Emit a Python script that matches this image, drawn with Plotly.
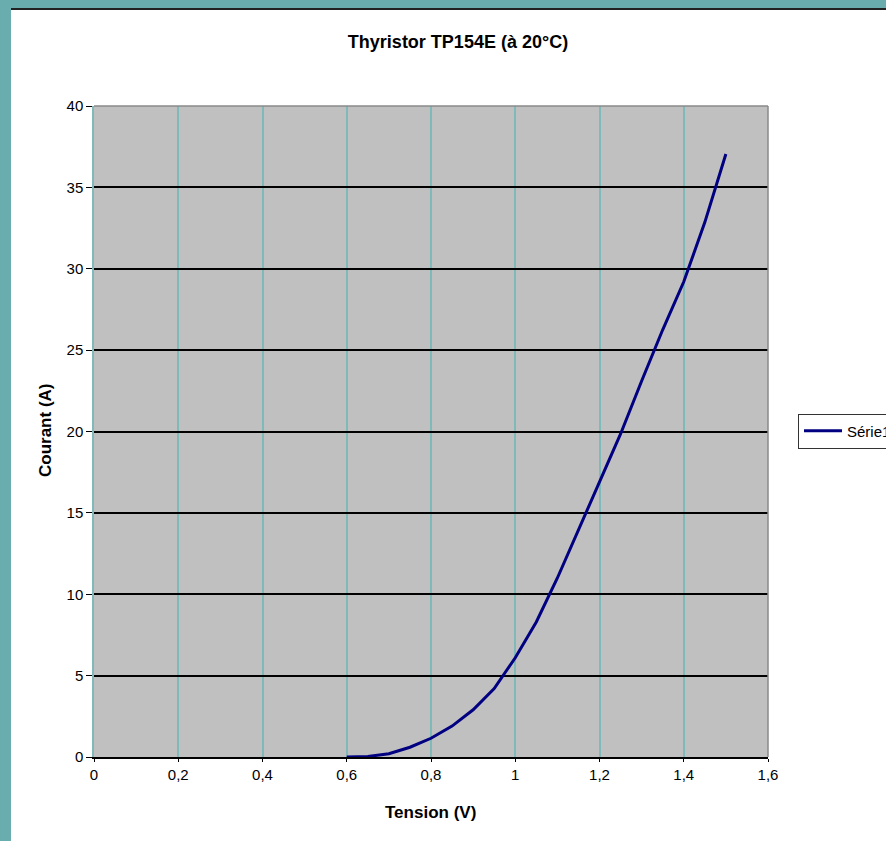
"""
Thyristor TP154E forward characteristic, Excel-style chart rebuilt in Plotly.
"""

import plotly.graph_objects as go

# --- data ---
tension = [0.60, 0.65, 0.70, 0.75, 0.80, 0.85, 0.90, 0.95, 1.00, 1.05,
           1.10, 1.15, 1.20, 1.25, 1.30, 1.35, 1.40, 1.45, 1.50]
courant = [0.0, 0.03, 0.2, 0.6, 1.15, 1.9, 2.9, 4.2, 6.1, 8.3,
           11.0, 13.95, 16.9, 19.85, 23.1, 26.25, 29.2, 32.85, 37.05]

x_ticks = [0, 0.2, 0.4, 0.6, 0.8, 1.0, 1.2, 1.4, 1.6]
x_labels = ["0", "0,2", "0,4", "0,6", "0,8", "1", "1,2", "1,4", "1,6"]
y_ticks = [0, 5, 10, 15, 20, 25, 30, 35, 40]

W, H = 886, 841
L, R, T, B = 94, 118, 106, 84
TEAL = "#6aadae"
FONT = "Liberation Sans, Arial, sans-serif"


def px(x):
    return (x - L) / (W - L - R)


def py(y):
    return (H - B - y) / (H - T - B)


fig = go.Figure()
fig.add_trace(
    go.Scatter(
        x=tension,
        y=courant,
        mode="lines",
        name="Série1",
        line=dict(color="#000080", width=3),
    )
)

shapes = [
    # window frame
    dict(type="rect", xref="paper", yref="paper", x0=px(0), x1=px(W), y0=py(0), y1=py(8),
         fillcolor=TEAL, line_width=0, layer="above"),
    dict(type="rect", xref="paper", yref="paper", x0=px(11), x1=px(W), y0=py(8), y1=py(10),
         fillcolor="#222222", line_width=0, layer="above"),
    dict(type="rect", xref="paper", yref="paper", x0=px(0), x1=px(11), y0=py(0), y1=py(H),
         fillcolor=TEAL, line_width=0, layer="above"),
    # plot area border top / right
    dict(type="line", xref="paper", yref="paper", x0=0, x1=1, y0=1, y1=1,
         line=dict(color="#8a8a8a", width=1.5), layer="above"),
    dict(type="line", xref="paper", yref="paper", x0=1, x1=1, y0=0, y1=1,
         line=dict(color="#8a8a8a", width=1.5), layer="above"),
]

fig.update_layout(
    width=W,
    height=H,
    margin=dict(l=L, r=R, t=T, b=B, autoexpand=False),
    paper_bgcolor="white",
    plot_bgcolor="#c0c0c0",
    font=dict(family=FONT, color="#000000", size=15),
    title=dict(
        text="<b>Thyristor TP154E (à 20°C)</b>",
        x=458 / W, xanchor="center",
        y=1 - 42 / H, yanchor="middle",
        font=dict(size=18, family=FONT, color="#000000"),
    ),
    xaxis=dict(
        range=[0, 1.6],
        tickvals=x_ticks,
        ticktext=x_labels,
        showgrid=True, gridcolor="#7fb9b9", gridwidth=1.5,
        zeroline=False,
        showline=True, linecolor="#000000", linewidth=1.5,
        ticks="outside", ticklen=3, tickcolor="#000000",
        tickfont=dict(size=15, family=FONT),
        fixedrange=True,
    ),
    yaxis=dict(
        range=[0, 40],
        tickvals=y_ticks,
        showgrid=True, gridcolor="#000000", gridwidth=1.5,
        zeroline=False,
        showline=True, linecolor="#7fb9b9", linewidth=1.5,
        ticks="outside", ticklen=6, tickcolor="#000000",
        tickfont=dict(size=15, family=FONT),
        fixedrange=True,
    ),
    annotations=[
        dict(text="<b>Tension (V)</b>", xref="paper", yref="paper",
             x=px(430), y=py(812), showarrow=False,
             font=dict(size=17, family=FONT), xanchor="center", yanchor="middle"),
        dict(text="<b>Courant (A)</b>", xref="paper", yref="paper",
             x=px(45), y=py(431), showarrow=False, textangle=-90,
             font=dict(size=17, family=FONT), xanchor="center", yanchor="middle"),
    ],
    shapes=shapes,
    showlegend=True,
    legend=dict(
        x=px(798), xanchor="left",
        y=py(431), yanchor="middle",
        bordercolor="#333333", borderwidth=1,
        bgcolor="white",
        itemwidth=38,
        font=dict(size=15, family=FONT),
    ),
)

fig.write_html(
    "out.html",
    config={"displayModeBar": False},
    post_script="document.body.style.margin='0';document.body.style.overflow='hidden';",
)
